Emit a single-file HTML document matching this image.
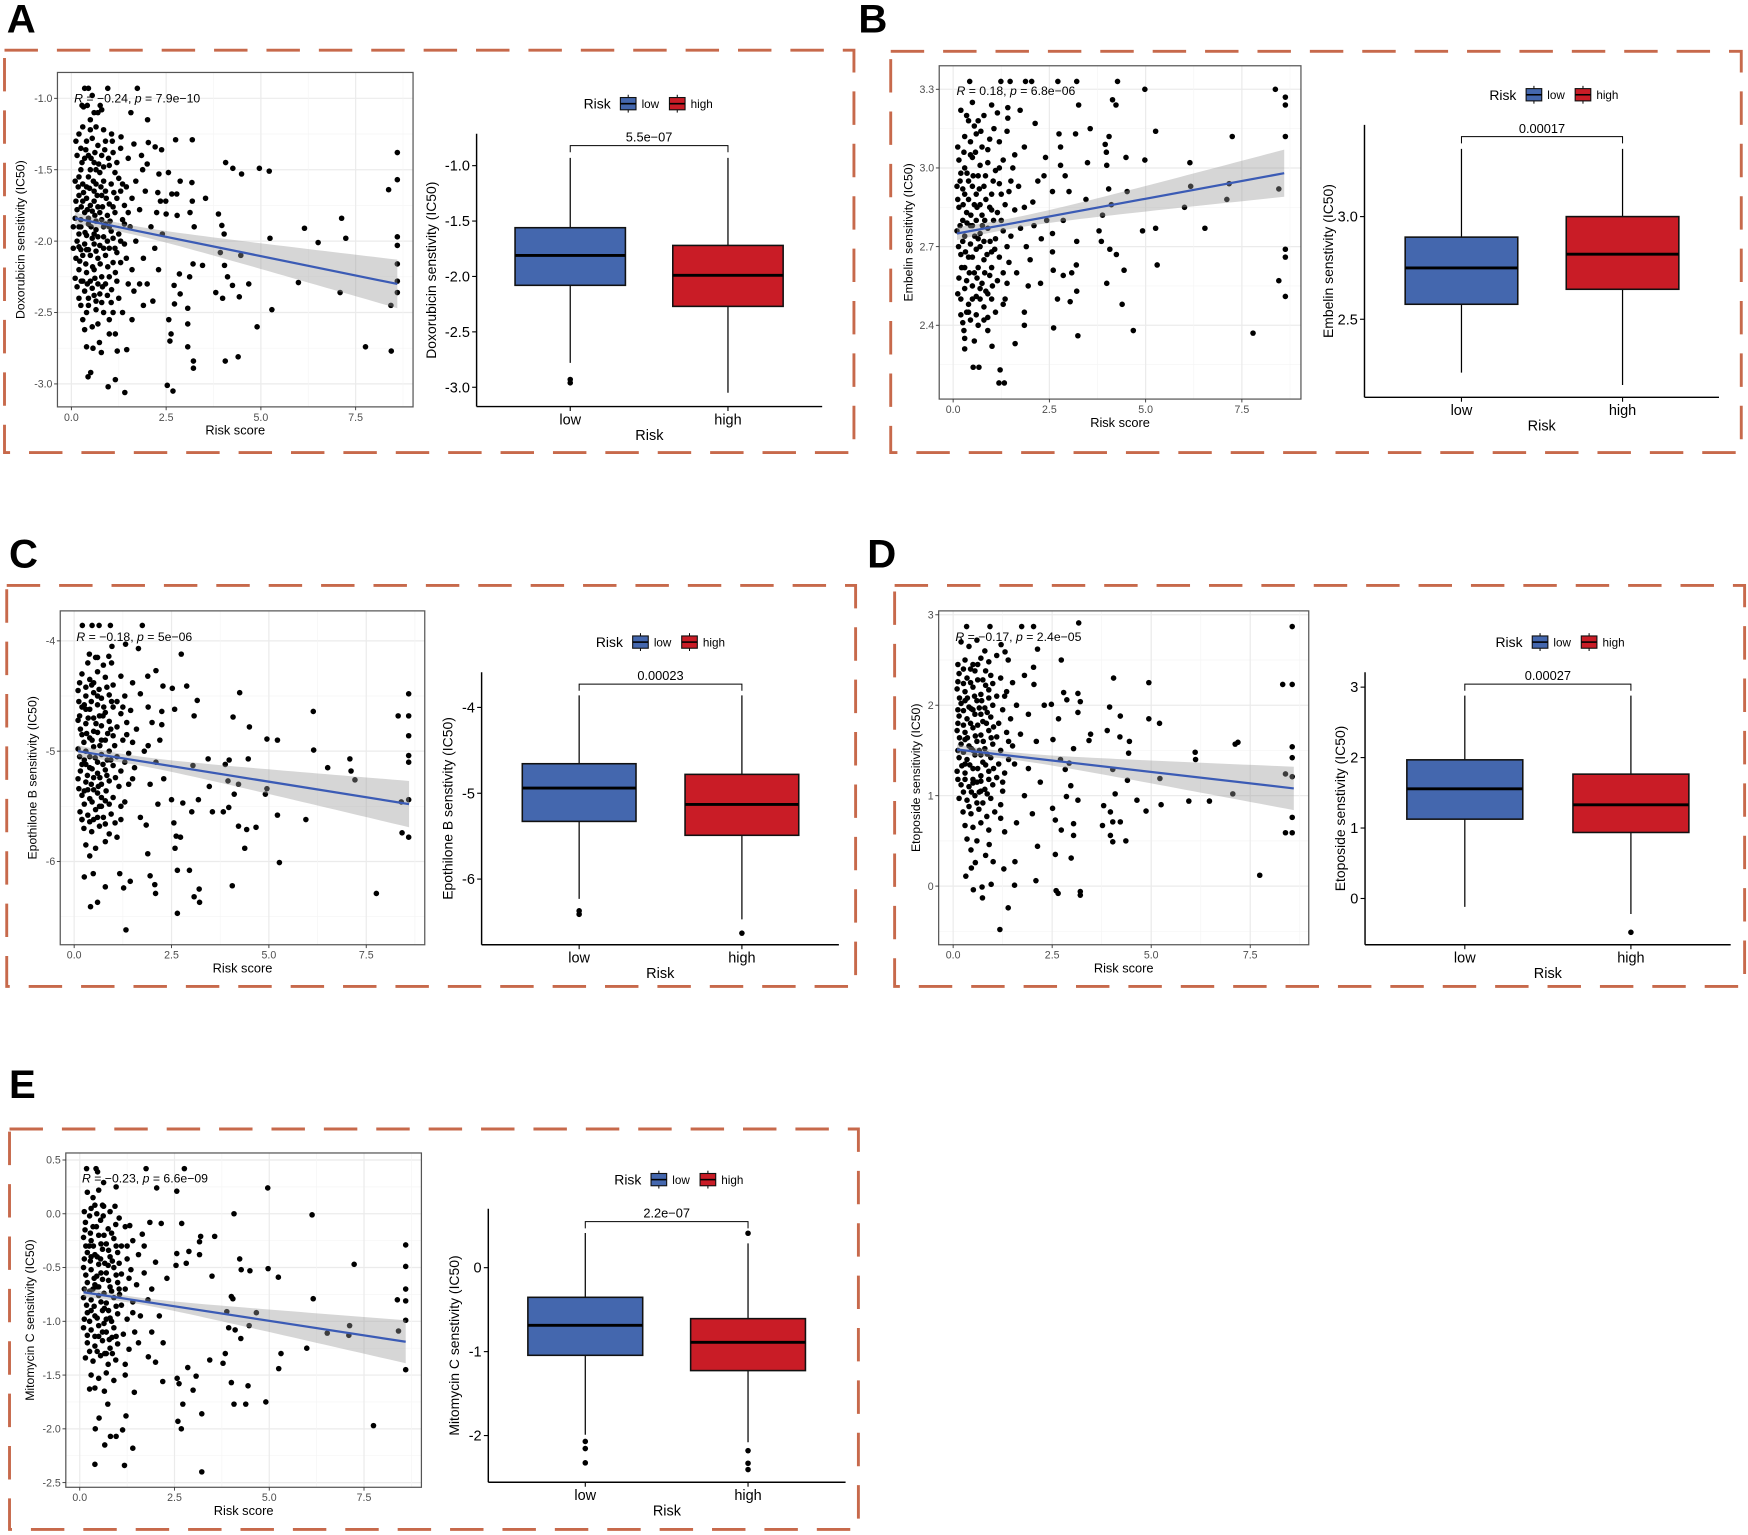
<!DOCTYPE html>
<html><head><meta charset="utf-8">
<style>
html,body{margin:0;padding:0;background:#fff;}
svg{display:block;font-family:"Liberation Sans",Arial,sans-serif;}
</style></head>
<body>
<svg id="fig" xmlns="http://www.w3.org/2000/svg" width="1748" height="1535" viewBox="0 0 1568 1377"></svg>
<script>
// ---------------- DATA ----------------
// Scatter points [riskScore, IC50]
const scatterA = [[2.01,-1.15],[3.19,-1.29],[4.07,-1.45],[4.26,-1.49],[4.49,-1.53],[4.96,-1.49],[5.22,-1.51],[8.6,-1.38],[8.6,-1.57],[8.37,-1.64],[7.13,-1.84],[7.24,-1.98],[6.51,-2.01],[6.15,-1.91],[5.24,-1.98],[8.6,-1.97],[8.6,-2.03],[8.6,-2.16],[8.6,-2.28],[8.6,-2.36],[8.43,-2.45],[3.88,-1.81],[3.97,-1.89],[4.03,-1.95],[3.93,-2.08],[4.04,-2.17],[4.47,-2.1],[4.12,-2.25],[4.25,-2.31],[4.68,-2.3],[5.99,-2.29],[7.09,-2.36],[3.81,-2.36],[3.99,-2.4],[4.43,-2.39],[5.29,-2.48],[4.9,-2.6],[7.76,-2.74],[8.44,-2.77],[4.06,-2.84],[4.4,-2.81],[3.22,-2.84],[3.22,-2.89],[3.07,-2.74],[3.07,-2.58],[3.07,-2.47],[2.6,-2.7],[2.63,-2.65],[2.57,-2.55],[2.72,-2.44],[2.87,-2.37],[2.71,-2.31],[2.85,-2.23],[3.12,-2.25],[3.21,-2.16],[3.46,-2.17],[2.53,-3.01],[2.68,-3.05],[1.41,-3.06],[1.16,-2.97],[0.97,-3.02],[0.44,-2.95],[0.51,-2.92],[0.4,-2.74],[0.57,-2.75],[0.79,-2.78],[0.74,-2.71],[1.16,-2.65],[1.0,-2.65],[1.21,-2.77],[1.46,-2.76],[3.24,-1.9],[3.54,-1.7],[3.18,-1.59],[2.87,-1.58],[2.65,-1.67],[2.78,-1.67],[2.28,-1.66],[2.49,-1.72],[2.35,-1.72],[2.5,-1.81],[2.79,-1.82],[3.19,-1.72],[3.13,-1.8],[2.75,-1.29],[2.38,-1.36],[2.21,-1.34],[2.03,-1.31],[2.56,-1.52],[2.31,-1.53],[2.0,-1.46],[1.88,-1.5],[1.74,-0.93],[0.96,-0.93],[0.76,-1.05],[1.57,-1.1],[0.32,-1.06],[1.06,-1.25],[1.31,-1.27],[1.65,-1.32],
[0.35,-0.93],[0.45,-0.93],[0.55,-0.98],[0.42,-1.05],[0.6,-1.1],[0.7,-1.1],[0.5,-1.15],[0.3,-1.2],[0.8,-1.08],[0.2,-1.25],[0.4,-1.3],[0.55,-1.28],[0.7,-1.33],[0.9,-1.3],[1.1,-1.38],[1.3,-1.35],[0.15,-1.4],[0.35,-1.42],[0.6,-1.45],[0.8,-1.4],[1.0,-1.47],[1.2,-1.45],[1.5,-1.42],[0.25,-1.5],[0.5,-1.5],[0.75,-1.52],[0.1,-1.58],[0.3,-1.6],[0.45,-1.55],[0.65,-1.6],[0.85,-1.58],[1.05,-1.6],[1.25,-1.56],[1.45,-1.62],[1.7,-1.58],[0.2,-1.68],[0.4,-1.7],[0.6,-1.72],[0.8,-1.68],[1.0,-1.74],[1.2,-1.7],[1.4,-1.75],[1.6,-1.7],[0.15,-1.78],[0.35,-1.8],[0.55,-1.79],[0.75,-1.8],[0.95,-1.82],[1.15,-1.8],[1.35,-1.85],[1.8,-1.78],[0.05,-1.9],[0.25,-1.9],[0.45,-1.88],[0.65,-1.92],[0.85,-1.9],[1.05,-1.93],[1.25,-1.95],[1.55,-1.9],[0.15,-2.0],[0.35,-2.02],[0.55,-1.98],[0.75,-2.03],[0.95,-2.0],[1.15,-2.05],[1.4,-2.02],[1.7,-2.0],[0.05,-2.05],[0.3,-2.1],[0.5,-2.1],[0.7,-2.12],[0.9,-2.1],[1.1,-2.15],[1.3,-2.15],[1.6,-2.2],[0.2,-2.2],[0.4,-2.22],[0.6,-2.2],[0.8,-2.25],[1.0,-2.25],[1.2,-2.28],[1.5,-2.3],[1.8,-2.3],[0.15,-2.32],[0.35,-2.35],[0.55,-2.33],[0.75,-2.37],[0.95,-2.38],[1.25,-2.4],[2.0,-2.3],[0.25,-2.45],[0.45,-2.45],[0.65,-2.48],[0.85,-2.5],[1.1,-2.5],[1.35,-2.5],[1.6,-2.55],[0.3,-2.55],[0.55,-2.6],[0.7,-2.58],[1.0,-2.55],[0.35,-2.62],
[0.25,-1.35],[0.45,-1.4],[0.65,-1.5],[0.85,-1.48],[1.15,-1.52],[0.2,-1.55],[0.4,-1.62],[0.6,-1.65],[0.9,-1.65],[1.3,-1.65],[0.3,-1.72],[0.5,-1.75],[0.7,-1.76],[1.1,-1.76],[0.25,-1.85],[0.45,-1.84],[0.65,-1.86],[0.9,-1.88],[1.4,-1.88],[0.2,-1.95],[0.4,-1.96],[0.6,-1.95],[0.85,-1.97],[1.1,-1.98],[0.25,-2.06],[0.45,-2.06],[0.65,-2.07],[0.85,-2.05],[1.2,-2.08],[1.9,-2.12],[2.2,-2.05],[2.1,-1.9],[2.3,-2.2],[2.15,-2.42],[1.9,-2.45],[0.3,-2.28],[0.5,-2.28],[0.7,-2.3],[0.9,-2.3],[0.45,-2.4],[0.65,-2.42],[1.05,-2.43],[2.4,-1.95],[2.25,-1.8],[1.95,-1.65],[1.85,-1.4],
[0.12,-1.3],[0.28,-1.45],[0.38,-1.36],[0.52,-1.42],[0.62,-1.38],[0.72,-1.46],[0.88,-1.36],[0.98,-1.42],[1.08,-1.3],[0.18,-1.62],[0.32,-1.66],[0.48,-1.63],[0.58,-1.58],[0.68,-1.68],[0.78,-1.62],[0.92,-1.7],[1.12,-1.66],[0.12,-1.72],[0.26,-1.76],[0.42,-1.78],[0.62,-1.82],[0.82,-1.76],[1.02,-1.86],[0.1,-1.84],[0.2,-1.9],[0.36,-1.94],[0.52,-1.9],[0.7,-1.97],[0.8,-1.85],[1.0,-1.9],[0.12,-2.12],[0.22,-2.14],[0.38,-2.16],[0.56,-2.18],[0.76,-2.16],[0.96,-2.18],[1.16,-2.22],[0.1,-2.26],[0.26,-2.28],[0.42,-2.3],[0.62,-2.26],[0.82,-2.32],[1.06,-2.34],[0.2,-2.4],[0.4,-2.5],[0.6,-2.38],[0.8,-2.43],[0.28,-1.05],[0.5,-1.22],[0.65,-1.2],[0.85,-1.22],[1.35,-1.6],[1.5,-1.8],[1.3,-2.0],[1.45,-2.12],[1.65,-2.35],[1.0,-2.05],[0.6,-2.02],[0.4,-2.06],[0.2,-2.04]];
const scatterB = [[2.72,3.33],[3.21,3.33],[4.27,3.33],[4.98,3.3],[8.37,3.3],[8.63,3.27],[8.63,3.24],[8.63,3.12],[5.26,3.14],[7.25,3.12],[4.14,3.26],[4.23,3.24],[3.26,3.24],[2.75,3.13],[3.18,3.13],[3.56,3.15],[4.05,3.12],[3.95,3.09],[3.98,3.06],[3.99,3.01],[3.49,3.02],[4.49,3.04],[4.98,3.03],[6.15,3.02],[6.17,2.93],[7.17,2.94],[7.11,2.88],[8.46,2.92],[6.01,2.85],[6.54,2.77],[5.26,2.77],[4.92,2.76],[4.52,2.91],[4.11,2.86],[3.88,2.82],[4.04,2.92],[3.45,2.88],[3.79,2.76],[3.85,2.72],[4.07,2.69],[4.24,2.67],[4.44,2.61],[5.3,2.63],[3.99,2.56],[4.39,2.48],[4.68,2.38],[7.79,2.37],[8.63,2.69],[8.63,2.66],[8.46,2.57],[8.63,2.51],[3.24,2.36],[2.61,2.39],[3.21,2.53],[3.04,2.49],[2.71,2.5],[2.27,2.56],[3.21,2.72],[3.2,2.63],[3.08,2.6],[2.86,2.59],[2.6,2.61],[3.01,2.91],[2.58,2.91],[2.36,2.97],[2.79,3.01],[2.91,2.97],[2.4,3.04],[2.79,3.08],[2.13,3.17],[1.85,3.08],[2.07,2.87],[2.43,2.8],[2.86,2.8],[2.58,2.75],[2.29,2.73],[2.58,2.68],[2.0,2.65],[1.33,2.18],[1.19,2.18],[1.22,2.23],[0.67,2.24],[0.52,2.24],[0.3,2.31],[1.61,2.33],[1.01,2.32],[1.85,2.4],[1.85,2.45],[1.88,3.33],[2.04,3.33],[1.48,3.33],[1.24,3.33],[0.43,3.33],[1.42,3.23],[1.74,3.22],[1.42,3.19],
[0.2,3.22],[0.35,3.2],[0.5,3.25],[0.65,3.18],[0.8,3.2],[1.0,3.24],[1.15,3.21],[0.3,3.12],[0.45,3.1],[0.6,3.13],[0.75,3.08],[0.95,3.11],[1.2,3.1],[1.4,3.14],[0.15,3.03],[0.3,3.0],[0.5,3.04],[0.7,3.01],[0.9,3.02],[1.1,2.99],[1.3,3.03],[1.55,3.0],[0.1,2.93],[0.25,2.92],[0.4,2.95],[0.6,2.9],[0.8,2.93],[1.0,2.9],[1.2,2.94],[1.45,2.91],[1.7,2.93],[0.15,2.85],[0.35,2.83],[0.55,2.86],[0.75,2.82],[0.95,2.85],[1.15,2.83],[1.35,2.86],[1.6,2.84],[0.1,2.76],[0.3,2.74],[0.5,2.78],[0.7,2.75],[0.9,2.77],[1.1,2.73],[1.3,2.76],[1.5,2.74],[1.75,2.77],[0.2,2.67],[0.4,2.66],[0.6,2.69],[0.8,2.65],[1.0,2.68],[1.2,2.66],[1.45,2.64],[0.15,2.58],[0.35,2.57],[0.55,2.6],[0.75,2.56],[0.95,2.59],[1.15,2.57],[1.4,2.56],[0.2,2.5],[0.4,2.48],[0.6,2.51],[0.8,2.47],[1.0,2.5],[1.3,2.48],[0.25,2.41],[0.45,2.42],[0.65,2.4],[0.9,2.43],[0.3,2.35],[0.55,2.34],[0.45,3.05],[0.65,2.97],[0.85,2.88],[0.25,2.8],[0.45,2.71],[0.65,2.62],[0.85,2.53],[0.35,2.45],[1.05,2.8],[1.25,2.9],[0.55,3.16],[0.4,2.88],[0.6,2.8],[0.2,2.98],[0.8,2.72],[1.0,2.62],[0.3,2.9],[0.5,2.93],[0.7,2.86],[0.3,2.62],[0.5,2.55],[0.7,2.5],[0.25,2.72],[0.45,2.78],[0.65,2.73],[1.9,2.7],[2.1,2.78],[1.95,2.55],[2.2,2.95],[1.65,2.6],[1.85,2.85],[0.9,2.38],[1.1,2.45],
[0.12,3.08],[0.28,3.06],[0.4,3.18],[0.58,3.06],[0.72,3.14],[0.9,3.07],[1.06,3.15],[0.18,2.95],[0.36,2.98],[0.52,2.97],[0.68,2.92],[0.84,2.97],[1.04,2.95],[0.12,2.88],[0.26,2.86],[0.46,2.82],[0.62,2.85],[0.82,2.8],[1.0,2.84],[0.18,2.78],[0.36,2.79],[0.56,2.74],[0.76,2.78],[0.96,2.72],[0.14,2.7],[0.32,2.68],[0.5,2.66],[0.7,2.7],[0.88,2.67],[1.08,2.69],[0.22,2.62],[0.42,2.6],[0.62,2.58],[0.82,2.6],[1.02,2.55],[0.12,2.52],[0.3,2.54],[0.5,2.5],[0.7,2.54],[0.9,2.52],[0.2,2.44],[0.4,2.45],[0.6,2.44],[0.8,2.42],[0.28,2.38],[1.25,2.8],[1.4,2.7],[1.3,2.6],[1.5,2.95],[1.6,3.05],[1.2,3.0],[1.35,2.5]];
const scatterC = [[2.75,-4.12],[2.89,-4.41],[2.52,-4.43],[2.28,-4.41],[2.1,-4.27],[1.89,-4.32],[3.16,-4.54],[4.25,-4.47],[4.08,-4.69],[4.5,-4.78],[3.08,-4.68],[2.58,-4.62],[2.25,-4.64],[2.25,-4.76],[2.0,-4.74],[6.14,-4.64],[8.32,-4.68],[8.59,-4.48],[8.59,-4.68],[8.59,-4.86],[8.59,-5.04],[8.59,-5.1],[8.59,-5.44],[8.4,-5.46],[8.42,-5.74],[8.59,-5.78],[7.76,-6.29],[6.15,-4.99],[6.51,-5.15],[7.08,-5.07],[7.11,-5.18],[7.21,-5.26],[4.95,-4.89],[5.22,-4.9],[4.47,-5.07],[3.88,-5.12],[3.98,-5.08],[3.95,-5.27],[4.11,-5.39],[4.22,-5.3],[4.91,-5.39],[4.95,-5.34],[3.97,-5.51],[3.83,-5.55],[3.55,-5.55],[5.22,-5.58],[5.95,-5.62],[4.22,-5.68],[4.43,-5.71],[4.67,-5.69],[4.38,-5.88],[5.27,-6.01],[4.06,-6.22],[3.44,-5.07],[3.05,-5.13],[3.47,-5.32],[3.19,-5.44],[3.02,-5.55],[3.21,-6.25],[3.08,-6.32],[3.22,-6.37],[2.96,-6.08],[2.65,-6.47],[2.65,-6.08],[2.59,-5.88],[2.56,-5.65],[2.62,-5.77],[2.73,-5.78],[2.79,-5.47],[2.5,-5.44],[2.15,-5.48],[2.09,-6.29],[2.07,-6.21],[1.95,-6.13],[1.89,-5.93],[1.85,-5.67],[1.33,-6.62],[1.44,-6.18],[1.27,-6.24],[1.17,-6.11],[0.8,-6.23],[0.6,-6.37],[0.42,-6.41],[0.26,-6.14],[0.49,-6.11],[0.46,-3.86],[0.64,-3.86],[0.93,-3.86],[1.75,-3.86],[0.21,-3.86],[0.97,-4.05],[1.32,-4.03],[1.65,-4.07],[0.39,-4.12],[0.89,-4.14],[0.6,-4.15],[0.96,-4.2],
[0.2,-4.3],[0.4,-4.35],[0.6,-4.28],[0.8,-4.33],[1.0,-4.4],[1.2,-4.32],[1.5,-4.38],[0.1,-4.45],[0.3,-4.5],[0.5,-4.47],[0.7,-4.52],[0.9,-4.49],[1.1,-4.55],[1.3,-4.5],[1.7,-4.48],[0.2,-4.6],[0.4,-4.62],[0.6,-4.58],[0.8,-4.65],[1.0,-4.6],[1.2,-4.66],[1.45,-4.63],[0.1,-4.72],[0.3,-4.75],[0.5,-4.7],[0.7,-4.77],[0.9,-4.73],[1.1,-4.78],[1.35,-4.74],[1.6,-4.8],[0.2,-4.85],[0.4,-4.88],[0.6,-4.83],[0.8,-4.9],[1.0,-4.86],[1.25,-4.9],[1.5,-4.92],[0.1,-4.98],[0.3,-5.0],[0.5,-4.96],[0.7,-5.03],[0.9,-5.0],[1.1,-5.05],[1.4,-5.02],[1.8,-5.0],[0.2,-5.12],[0.4,-5.15],[0.6,-5.1],[0.8,-5.17],[1.0,-5.13],[1.2,-5.18],[1.55,-5.15],[0.1,-5.25],[0.3,-5.28],[0.5,-5.24],[0.7,-5.3],[0.9,-5.27],[1.15,-5.32],[1.4,-5.3],[0.2,-5.4],[0.4,-5.43],[0.6,-5.38],[0.8,-5.45],[1.0,-5.42],[1.3,-5.46],[0.15,-5.55],[0.35,-5.58],[0.55,-5.53],[0.75,-5.6],[0.95,-5.57],[1.2,-5.62],[0.25,-5.7],[0.45,-5.73],[0.65,-5.68],[0.9,-5.75],[1.1,-5.78],[0.3,-5.85],[0.55,-5.88],[0.8,-5.82],[0.4,-5.95],[0.35,-4.2],[0.55,-4.15],[0.75,-4.22],[0.45,-4.4],[0.65,-4.68],[0.25,-4.92],[0.85,-5.08],[0.35,-5.35],[0.65,-5.5],[1.05,-5.65],[0.3,-4.62],[0.5,-4.82],[0.7,-4.9],[0.4,-5.05],[0.6,-5.2],[0.3,-5.12],[0.5,-5.35],[0.7,-5.42],[1.9,-4.95],[2.1,-5.1],[2.3,-5.25],[1.95,-5.3],[2.2,-4.9],[1.7,-5.6],[1.9,-4.6],[0.2,-5.62],[0.5,-5.62],
[0.14,-4.38],[0.3,-4.42],[0.5,-4.38],[0.64,-4.44],[0.84,-4.42],[0.12,-4.55],[0.26,-4.58],[0.44,-4.55],[0.6,-4.5],[0.76,-4.6],[0.96,-4.55],[0.14,-4.68],[0.36,-4.7],[0.56,-4.75],[0.74,-4.68],[0.94,-4.8],[0.16,-4.8],[0.32,-4.84],[0.46,-4.9],[0.66,-4.95],[0.86,-4.84],[1.04,-4.95],[0.14,-5.05],[0.26,-5.08],[0.54,-5.06],[0.74,-5.12],[0.94,-5.08],[0.16,-5.18],[0.34,-5.22],[0.46,-5.16],[0.66,-5.24],[0.84,-5.22],[1.06,-5.24],[0.12,-5.34],[0.26,-5.36],[0.44,-5.3],[0.62,-5.32],[0.82,-5.36],[0.26,-5.48],[0.46,-5.46],[0.7,-5.5],[0.9,-5.48],[0.2,-5.62],[0.4,-5.64],[0.6,-5.6],[0.8,-5.66],[1.25,-4.6],[1.35,-4.85],[1.3,-5.1],[1.5,-5.25],[1.2,-5.5]];
const scatterD = [[8.56,2.87],[8.32,2.23],[8.56,2.23],[8.56,1.54],[8.56,1.42],[8.56,1.21],[8.39,1.24],[8.56,0.76],[8.39,0.59],[8.56,0.59],[7.74,0.12],[7.06,1.02],[7.12,1.57],[7.19,1.59],[6.11,1.48],[6.12,1.4],[6.47,0.94],[5.95,0.94],[5.22,1.19],[5.25,0.9],[4.87,0.83],[4.64,0.95],[4.94,1.85],[5.21,1.8],[4.94,2.25],[4.05,2.3],[3.95,1.98],[4.22,1.88],[3.89,1.72],[4.21,1.65],[4.45,1.6],[4.43,1.47],[4.4,1.17],[4.03,1.29],[4.09,1.02],[3.97,0.82],[3.8,0.89],[4.03,0.71],[4.22,0.71],[3.77,0.67],[3.97,0.56],[4.03,0.49],[4.36,0.5],[3.47,1.68],[3.43,1.61],[3.04,1.52],[3.15,2.13],[3.21,2.04],[3.15,1.92],[3.17,2.91],[2.73,2.5],[2.79,2.14],[2.87,2.06],[2.66,1.85],[2.48,2.01],[2.52,1.62],[2.71,1.4],[2.93,1.36],[2.83,1.29],[2.97,1.11],[2.86,0.99],[3.15,0.95],[3.04,0.69],[3.04,0.56],[2.98,0.31],[3.21,-0.06],[3.21,-0.1],[2.6,-0.05],[2.65,-0.08],[2.58,0.35],[2.73,0.62],[2.58,0.73],[2.51,0.86],[2.13,0.44],[2.09,0.06],[1.55,0.01],[1.39,-0.24],[1.18,-0.48],[0.96,0.02],[0.73,-0.01],[0.74,-0.13],[0.51,-0.04],[0.32,0.11],[1.56,0.27],[1.28,0.19],[1.01,0.27],[0.56,0.26],[0.46,0.2],[0.82,0.34],[0.91,0.46],[0.34,2.87],[0.93,2.87],[1.73,2.87],[2.03,2.87],[2.13,2.62],[2.03,2.42],[2.04,2.23],[1.8,2.33],[1.39,2.5],[1.31,2.59],[1.21,2.67],
[0.2,2.7],[0.4,2.65],[0.6,2.72],[0.8,2.6],[0.3,2.5],[0.5,2.45],[0.7,2.52],[0.9,2.48],[1.1,2.55],[0.15,2.35],[0.35,2.3],[0.55,2.38],[0.75,2.28],[0.95,2.33],[1.2,2.3],[1.5,2.25],[0.1,2.18],[0.3,2.15],[0.5,2.2],[0.7,2.12],[0.9,2.17],[1.1,2.1],[1.35,2.15],[0.2,2.02],[0.4,1.98],[0.6,2.05],[0.8,1.97],[1.0,2.0],[1.25,1.95],[1.6,2.0],[0.15,1.88],[0.35,1.85],[0.55,1.9],[0.75,1.82],[0.95,1.87],[1.15,1.8],[1.45,1.85],[0.1,1.72],[0.3,1.7],[0.5,1.75],[0.7,1.67],[0.9,1.72],[1.1,1.65],[1.35,1.7],[1.7,1.68],[0.2,1.57],[0.4,1.55],[0.6,1.6],[0.8,1.52],[1.0,1.57],[1.2,1.5],[1.5,1.55],[0.15,1.42],[0.35,1.4],[0.55,1.45],[0.75,1.37],[0.95,1.42],[1.15,1.35],[1.4,1.4],[0.1,1.27],[0.3,1.25],[0.5,1.3],[0.7,1.22],[0.9,1.27],[1.1,1.2],[1.3,1.25],[0.2,1.12],[0.4,1.1],[0.6,1.15],[0.8,1.07],[1.0,1.12],[1.25,1.05],[0.15,0.97],[0.35,0.95],[0.55,1.0],[0.75,0.92],[0.95,0.97],[1.2,0.9],[0.25,0.82],[0.45,0.8],[0.65,0.85],[0.85,0.77],[1.05,0.82],[0.3,0.67],[0.5,0.65],[0.7,0.7],[0.9,0.62],[0.35,0.52],[0.6,0.5],[0.45,0.4],[0.3,2.05],[0.5,1.95],[0.7,1.9],[0.3,1.62],[0.5,1.5],[0.7,1.45],[0.3,1.35],[0.5,1.18],[0.7,1.05],[1.9,1.9],[2.1,1.6],[1.9,1.3],[2.2,1.15],[1.8,1.0],[2.0,0.8],[1.6,0.7],[1.3,0.6],[2.3,2.0],
[0.12,2.45],[0.26,2.4],[0.44,2.4],[0.62,2.45],[0.82,2.38],[0.12,2.26],[0.26,2.24],[0.44,2.25],[0.62,2.28],[0.82,2.22],[1.0,2.24],[0.16,2.08],[0.36,2.08],[0.54,2.1],[0.72,2.05],[0.9,2.08],[0.12,1.95],[0.26,1.94],[0.46,1.96],[0.66,1.97],[0.86,1.92],[0.12,1.8],[0.26,1.78],[0.44,1.8],[0.62,1.78],[0.84,1.8],[1.02,1.76],[0.16,1.64],[0.36,1.64],[0.56,1.66],[0.76,1.6],[0.96,1.64],[0.12,1.5],[0.26,1.48],[0.46,1.52],[0.66,1.5],[0.86,1.46],[0.22,1.33],[0.42,1.34],[0.62,1.3],[0.82,1.34],[1.02,1.3],[0.12,1.18],[0.3,1.18],[0.5,1.14],[0.7,1.16],[0.9,1.18],[0.26,1.04],[0.46,1.04],[0.66,1.04],[0.86,1.02],[0.4,0.88],[0.6,0.92],[1.3,2.1],[1.4,1.6],[1.25,1.15],[1.55,1.35],[1.2,0.75]];
const scatterE = [[4.96,0.24],[4.07,0.0],[6.13,-0.01],[2.76,0.42],[1.75,0.42],[2.56,0.21],[2.03,0.24],[2.15,-0.09],[1.85,-0.08],[2.69,-0.09],[3.56,-0.21],[3.19,-0.21],[3.16,-0.26],[2.88,-0.35],[2.56,-0.37],[3.16,-0.38],[2.81,-0.46],[2.54,-0.48],[4.22,-0.42],[4.26,-0.52],[4.49,-0.53],[4.97,-0.51],[5.24,-0.59],[3.49,-0.58],[7.24,-0.47],[8.6,-0.29],[8.6,-0.49],[8.6,-0.7],[8.6,-0.81],[8.38,-0.8],[8.6,-0.99],[8.41,-1.09],[8.6,-1.45],[7.12,-1.04],[7.1,-1.13],[6.53,-1.11],[6.16,-0.79],[4.66,-0.92],[4.47,-1.04],[4.1,-1.08],[3.93,-1.06],[4.25,-1.16],[4.04,-0.79],[3.88,-0.91],[4.0,-0.77],[3.84,-1.3],[3.78,-1.39],[4.0,-1.57],[4.44,-1.6],[4.07,-1.77],[4.38,-1.77],[4.91,-1.75],[5.31,-1.3],[5.25,-1.44],[5.99,-1.25],[7.75,-1.97],[3.22,-1.86],[3.22,-2.4],[3.43,-1.36],[2.99,-1.64],[3.07,-1.51],[2.85,-1.43],[2.62,-1.58],[2.57,-1.53],[2.72,-1.77],[2.59,-1.93],[2.68,-2.0],[2.19,-1.56],[2.0,-1.38],[1.81,-1.33],[1.44,-1.66],[1.4,-2.18],[1.18,-2.34],[1.22,-1.88],[0.96,-2.07],[1.13,-2.01],[0.81,-2.07],[0.66,-2.15],[0.74,-1.77],[0.4,-2.33],[0.41,-2.0],[0.51,-1.9],[0.26,-1.63],[0.18,0.42],[0.43,0.42],[0.47,0.39],[0.63,0.29],[0.96,0.25],[0.93,0.07],[0.63,0.07],[1.04,-0.04],[1.32,-0.11],[1.65,-0.19],
[0.2,0.2],[0.35,0.15],[0.5,0.22],[0.3,0.05],[0.45,0.0],[0.6,0.08],[0.8,0.02],[0.15,-0.08],[0.35,-0.12],[0.55,-0.06],[0.75,-0.14],[0.95,-0.1],[1.2,-0.12],[0.1,-0.22],[0.3,-0.25],[0.5,-0.2],[0.7,-0.28],[0.9,-0.23],[1.1,-0.3],[1.4,-0.25],[0.2,-0.36],[0.4,-0.38],[0.6,-0.33],[0.8,-0.4],[1.0,-0.36],[1.25,-0.42],[1.55,-0.38],[0.1,-0.5],[0.3,-0.52],[0.5,-0.47],[0.7,-0.55],[0.9,-0.5],[1.1,-0.56],[1.35,-0.52],[1.7,-0.55],[0.2,-0.64],[0.4,-0.66],[0.6,-0.61],[0.8,-0.68],[1.0,-0.64],[1.2,-0.7],[1.5,-0.66],[0.1,-0.78],[0.3,-0.8],[0.5,-0.76],[0.7,-0.83],[0.9,-0.78],[1.1,-0.85],[1.4,-0.82],[1.8,-0.8],[0.2,-0.92],[0.4,-0.95],[0.6,-0.9],[0.8,-0.97],[1.0,-0.93],[1.25,-0.98],[1.6,-0.95],[0.1,-1.06],[0.3,-1.08],[0.5,-1.04],[0.7,-1.1],[0.9,-1.06],[1.15,-1.12],[1.45,-1.1],[0.2,-1.2],[0.4,-1.23],[0.6,-1.18],[0.8,-1.25],[1.0,-1.21],[1.3,-1.26],[0.15,-1.34],[0.35,-1.37],[0.55,-1.32],[0.75,-1.4],[0.95,-1.36],[1.2,-1.4],[0.3,-1.5],[0.5,-1.53],[0.7,-1.48],[0.9,-1.55],[0.4,-1.62],[0.65,-1.65],[0.25,-0.3],[0.45,-0.58],[0.65,-0.88],[0.85,-1.15],[0.55,-0.42],[0.35,-0.7],[0.75,-0.48],[1.05,-0.75],[0.3,-0.4],[0.5,-0.68],[0.7,-0.98],[0.3,-0.9],[0.5,-1.14],[0.7,-1.3],[1.9,-0.7],[2.1,-0.95],[2.3,-0.6],[1.9,-1.1],[2.2,-1.2],[1.7,-0.3],[2.0,-0.45],
[0.12,0.02],[0.26,-0.02],[0.4,0.08],[0.62,-0.02],[0.14,-0.15],[0.28,-0.18],[0.44,-0.12],[0.64,-0.2],[0.84,-0.18],[0.16,-0.3],[0.36,-0.3],[0.56,-0.28],[0.76,-0.34],[0.96,-0.3],[0.12,-0.42],[0.28,-0.44],[0.46,-0.4],[0.66,-0.46],[0.86,-0.44],[1.04,-0.46],[0.16,-0.57],[0.38,-0.6],[0.56,-0.55],[0.76,-0.62],[0.96,-0.57],[0.12,-0.7],[0.26,-0.72],[0.46,-0.68],[0.64,-0.74],[0.84,-0.72],[1.04,-0.7],[0.18,-0.85],[0.38,-0.86],[0.56,-0.82],[0.76,-0.9],[0.96,-0.86],[0.12,-0.98],[0.26,-1.0],[0.46,-0.97],[0.64,-1.02],[0.84,-1.0],[0.2,-1.13],[0.4,-1.14],[0.6,-1.1],[0.78,-1.17],[0.96,-1.14],[0.26,-1.28],[0.46,-1.28],[0.66,-1.3],[0.86,-1.3],[1.3,-0.6],[1.4,-0.92],[1.25,-0.3],[1.55,-1.2],[1.2,-1.5]];

// Regression fits: [y at x=0.1, y at x=8.6]; CI half-width [at centre, at x=8.6]
const fitA = [-1.84,-2.30], bandA = [0.03,0.17];
const fitB = [2.75,2.98],   bandB = [0.02,0.09];
const fitC = [-5.0,-5.48],  bandC = [0.04,0.21];
const fitD = [1.51,1.08],   bandD = [0.04,0.24];
const fitE = [-0.73,-1.19], bandE = [0.03,0.2];

// Box stats [whiskerLow, q1, median, q3, whiskerHigh]
const boxA_low = [-2.78,-2.08,-1.81,-1.56,-0.93], boxA_high = [-3.05,-2.27,-1.99,-1.72,-0.93];
const outA_low = [-2.93,-2.96], outA_high = [];
const boxB_low = [2.24,2.573,2.75,2.90,3.33], boxB_high = [2.18,2.646,2.817,3.0,3.33];
const outB_low = [], outB_high = [];
const boxC_low = [-6.23,-5.328,-4.94,-4.656,-3.86], boxC_high = [-6.47,-5.49,-5.13,-4.78,-3.86];
const outC_low = [-6.37,-6.41], outC_high = [-6.63];
const boxD_low = [-0.12,1.126,1.557,1.968,2.88], boxD_high = [-0.22,0.937,1.33,1.765,2.88];
const outD_low = [], outD_high = [-0.48];
const boxE_low = [-1.99,-1.044,-0.687,-0.353,0.413], boxE_high = [-2.08,-1.226,-0.889,-0.607,0.29];
const outE_low = [-2.07,-2.155,-2.325], outE_high = [0.41,-2.18,-2.33,-2.405];

// Tick labels
const scatterXTicks = [0,2.5,5,7.5];
const scatterXLabels = ["0.0","2.5","5.0","7.5"];
const sTicksA = [-1.0,-1.5,-2.0,-2.5,-3.0], sLabA = ["-1.0","-1.5","-2.0","-2.5","-3.0"];
const sTicksB = [2.4,2.7,3.0,3.3], sLabB = ["2.4","2.7","3.0","3.3"];
const sTicksC = [-4,-5,-6], sLabC = ["-4","-5","-6"];
const sTicksD = [0,1,2,3], sLabD = ["0","1","2","3"];
const sTicksE = [0.5,0.0,-0.5,-1.0,-1.5,-2.0,-2.5], sLabE = ["0.5","0.0","-0.5","-1.0","-1.5","-2.0","-2.5"];
const bTicksA = [-1.0,-1.5,-2.0,-2.5,-3.0], bLabA = ["-1.0","-1.5","-2.0","-2.5","-3.0"];
const bTicksB = [2.5,3.0], bLabB = ["2.5","3.0"];
const bTicksC = [-4,-5,-6], bLabC = ["-4","-5","-6"];
const bTicksD = [0,1,2,3], bLabD = ["0","1","2","3"];
const bTicksE = [0,-1,-2], bLabE = ["0","-1","-2"];
const groups = ["low","high"];
const pValues = ["5.5e\u221207","0.00017","0.00023","0.00027","2.2e\u221207"];
const corrR = ["\u22120.24","0.18","\u22120.18","\u22120.17","\u22120.23"];
const corrP = ["7.9e\u221210","6.8e\u221206","5e\u221206","2.4e\u221205","6.6e\u221209"];

// ---------------- LAYOUT (pixel geometry) ----------------
const panels = [
 {id:"a",letter:"A",L:[6,29],frame:[4,45,766,406],sp:[51.5,65,370.5,365],sx:[0,64,7.5,319],sy:[-1,88.2,-3,344.4],
  ytitle:"Doxorubicin sensitivity (IC50)",ytx:19,rT:[66.5,92],
  bp:{ax:427.5,top:120,bot:364.7,right:737.5,y:[-1,148.6,-3,347.4],x:[511.5,653],hw:49.5,sig:130.6,ytx:388,title:"Doxorubicin senstivity (IC50)"},leg:[523.5,93],
  data:scatterA,fit:fitA,band:bandA,sT:sTicksA,sL:sLabA,bT:bTicksA,bL:bLabA,box:[boxA_low,boxA_high],out:[outA_low,outA_high]},
 {id:"b",letter:"B",L:[770,29],frame:[799,46,1562,406],sp:[842.5,59,1167,358],sx:[0,855,7.5,1114],sy:[3.3,80.1,2.4,291.8],
  ytitle:"Embelin sensitivity (IC50)",ytx:815.5,rT:[858,85],
  bp:{ax:1224,top:112,bot:356.4,right:1542,y:[3.0,194.3,2.5,286.4],x:[1311,1455.5],hw:50.5,sig:122.6,ytx:1192.5,title:"Embelin senstivity (IC50)"},leg:[1336,85],
  data:scatterB,fit:fitB,band:bandB,sT:sTicksB,sL:sLabB,bT:bTicksB,bL:bLabB,box:[boxB_low,boxB_high],out:[outB_low,outB_high]},
 {id:"c",letter:"C",L:[8,509],frame:[6,525.2,767.5,884.9],sp:[54,548,381,847.5],sx:[0,66.5,7.5,328.5],sy:[-4,574.9,-6,772.8],
  ytitle:"Epothilone B sensitivity (IC50)",ytx:30,rT:[68.5,575],
  bp:{ax:432,top:603,bot:847.5,right:752.5,y:[-4,634.6,-6,788.6],x:[519.5,665.5],hw:51,sig:613.7,ytx:402.5,title:"Epothilone B senstivity (IC50)"},leg:[534.5,576],
  data:scatterC,fit:fitC,band:bandC,sT:sTicksC,sL:sLabC,bT:bTicksC,bL:bLabC,box:[boxC_low,boxC_high],out:[outC_low,outC_high]},
 {id:"d",letter:"D",L:[778,509],frame:[802.5,525.2,1565,884.9],sp:[842,548,1174,847.5],sx:[0,855,7.5,1121.5],sy:[3,551.5,0,794.9],
  ytitle:"Etoposide sensitivity (IC50)",ytx:822.5,rT:[857,575],
  bp:{ax:1224.5,top:603,bot:847.5,right:1552.5,y:[3,616.4,0,806],x:[1314,1463],hw:52,sig:613.7,ytx:1203,title:"Etoposide senstivity (IC50)"},leg:[1341.5,576],
  data:scatterD,fit:fitD,band:bandD,sT:sTicksD,sL:sLabD,bT:bTicksD,bL:bLabD,box:[boxD_low,boxD_high],out:[outD_low,outD_high]},
 {id:"e",letter:"E",L:[8,985],frame:[8.5,1012.8,770,1372],sp:[59,1034.3,378,1334.2],sx:[0,71.5,7.5,326.5],sy:[0.5,1040.6,-2.5,1330],
  ytitle:"Mitomycin C sensitivity (IC50)",ytx:27.5,rT:[73.5,1061],
  bp:{ax:438,top:1084.3,bot:1329.7,right:758.5,y:[0,1137.2,-2,1287.8],x:[525,671],hw:51.5,sig:1095.9,ytx:408.5,title:"Mitomycin C senstivity (IC50)"},leg:[551,1058.2],
  data:scatterE,fit:fitE,band:bandE,sT:sTicksE,sL:sLabE,bT:bTicksE,bL:bLabE,box:[boxE_low,boxE_high],out:[outE_low,outE_high]}
];
const COLORS = ["#4467ae","#c91c26"];

const NS = "http://www.w3.org/2000/svg";
const svg = document.getElementById("fig");
function mk(tag, attrs, parent){
  const e = document.createElementNS(NS, tag);
  for (const k in attrs) e.setAttribute(k, attrs[k]);
  (parent||svg).appendChild(e);
  return e;
}
function lin(d){ return v => d[1] + (v - d[0]) * (d[3]-d[1]) / (d[2]-d[0]); }

panels.forEach((p, pi) => {
  const g = mk("g", {});
  
  

  const lt = mk("text", {x:p.L[0], y:p.L[1], "font-size":36, "font-weight":"bold", fill:"#000"}, g);
  lt.textContent = p.letter;
  
  

  const f = p.frame;
  const fr = mk("rect", {x:f[0], y:f[1], width:f[2]-f[0], height:f[3]-f[1], fill:"none", stroke:"#c7694b", "stroke-width":2.6, "stroke-dasharray":"30 17"}, g);
  
  

  // ---- scatter ----
  const X = lin(p.sx), Y = lin(p.sy), sp = p.sp;
  const sg = mk("g", {}, g);
  
  
  const clipId = "clip" + p.id;
  const cp = mk("clipPath", {id:clipId}, sg);
  mk("rect", {x:sp[0], y:sp[1], width:sp[2]-sp[0], height:sp[3]-sp[1]}, cp);
  const bg = mk("rect", {x:sp[0], y:sp[1], width:sp[2]-sp[0], height:sp[3]-sp[1], fill:"#fff"}, sg);
  
  
  const stepY = Math.abs(p.sT[0]-p.sT[1]);
  const yMin = Math.min(...p.sT) - stepY, yMax = Math.max(...p.sT) + stepY;
  for (let v = yMin; v <= yMax + 1e-9; v += stepY/2) {
    const yy = Y(v); if (yy < sp[1] || yy > sp[3]) continue;
    const major = p.sT.some(t => Math.abs(t - v) < 1e-6);
    const gl = mk("line", {x1:sp[0], x2:sp[2], y1:yy, y2:yy, stroke: major ? "#ebebeb" : "#f5f5f5", "stroke-width": major?1.1:0.6}, sg);
    
    
  }
  for (let v = -1.25; v <= 10; v += 1.25) {
    const xx = X(v); if (xx < sp[0] || xx > sp[2]) continue;
    const major = scatterXTicks.some(t => Math.abs(t - v) < 1e-6);
    const gl = mk("line", {x1:xx, x2:xx, y1:sp[1], y2:sp[3], stroke: major ? "#ebebeb" : "#f5f5f5", "stroke-width": major?1.1:0.6}, sg);
    
    
  }
  const pg = mk("g", {fill:"#000", "clip-path":"url(#"+clipId+")"}, sg);
  
  
  p.data.forEach(d => {
    const c = mk("circle", {cx:X(d[0]), cy:Y(d[1]), r:2.5}, pg);
    
    
  });
  const x0 = 0.1, x1 = 8.6, xm = 1.3;
  const fy = x => p.fit[0] + (x - x0) * (p.fit[1]-p.fit[0]) / (x1 - x0);
  const hw = x => { const a = p.band[0], b = (p.band[1]*p.band[1] - a*a)/((x1-xm)*(x1-xm)); return Math.sqrt(a*a + b*(x-xm)*(x-xm)); };
  let up = [], dn = [];
  for (let i = 0; i <= 40; i++) { const x = x0 + (x1-x0)*i/40; up.push(X(x)+","+Y(fy(x)+hw(x))); dn.unshift(X(x)+","+Y(fy(x)-hw(x))); }
  const band = mk("polygon", {points: up.concat(dn).join(" "), fill:"#999", "fill-opacity":0.4, stroke:"none"}, sg);
  
  
  const fl = mk("line", {x1:X(x0), y1:Y(fy(x0)), x2:X(x1), y2:Y(fy(x1)), stroke:"#3b5bb5", "stroke-width":2}, sg);
  
  
  const border = mk("rect", {x:sp[0], y:sp[1], width:sp[2]-sp[0], height:sp[3]-sp[1], fill:"none", stroke:"#555", "stroke-width":1.1}, sg);
  
  
  p.sT.forEach((t, i) => {
    const yy = Y(t);
    mk("line", {x1:sp[0]-3, x2:sp[0], y1:yy, y2:yy, stroke:"#333", "stroke-width":0.8}, sg);
    const tl = mk("text", {x:sp[0]-4.5, y:yy+3.3, "font-size":9.5, fill:"#4d4d4d", "text-anchor":"end"}, sg);
    tl.textContent = p.sL[i];
    
    
  });
  scatterXTicks.forEach((t, i) => {
    const xx = X(t);
    mk("line", {x1:xx, x2:xx, y1:sp[3], y2:sp[3]+3, stroke:"#333", "stroke-width":0.8}, sg);
    const tl = mk("text", {x:xx, y:sp[3]+12.5, "font-size":9.5, fill:"#4d4d4d", "text-anchor":"middle"}, sg);
    tl.textContent = scatterXLabels[i];
    
    
  });
  const xt = mk("text", {x:(sp[0]+sp[2])/2, y:sp[3]+25, "font-size":11.5, fill:"#000", "text-anchor":"middle"}, sg);
  xt.textContent = "Risk score";
  
  
  const cy = (sp[1]+sp[3])/2;
  const yt = mk("text", {x:p.ytx, y:cy, "font-size":11, fill:"#000", "text-anchor":"middle", transform:"rotate(-90 "+p.ytx+" "+cy+")", "dominant-baseline":"middle"}, sg);
  yt.textContent = p.ytitle;
  
  
  const rt = mk("text", {x:p.rT[0], y:p.rT[1], "font-size":11, fill:"#000"}, sg);
  rt.innerHTML = '<tspan font-style="italic">R</tspan> = ' + corrR[pi] + ', <tspan font-style="italic">p</tspan> = ' + corrP[pi];
  
  

  // ---- box plot ----
  const b = p.bp, BY = lin(b.y);
  const bg2 = mk("g", {}, g);
  
  
  const axL = mk("line", {x1:b.ax, x2:b.ax, y1:b.top, y2:b.bot, stroke:"#000", "stroke-width":1.3}, bg2);
  
  
  const axB = mk("line", {x1:b.ax, x2:b.right, y1:b.bot, y2:b.bot, stroke:"#000", "stroke-width":1.3}, bg2);
  
  
  p.bT.forEach((t, i) => {
    const yy = BY(t);
    mk("line", {x1:b.ax-4, x2:b.ax, y1:yy, y2:yy, stroke:"#000", "stroke-width":1}, bg2);
    const tl = mk("text", {x:b.ax-6, y:yy+4.5, "font-size":13, fill:"#000", "text-anchor":"end"}, bg2);
    tl.textContent = p.bL[i];
    
    
  });
  groups.forEach((gname, gi) => {
    const cx = b.x[gi], s = p.box[gi];
    mk("line", {x1:cx, x2:cx, y1:b.bot, y2:b.bot+4, stroke:"#000", "stroke-width":1}, bg2);
    const gl = mk("text", {x:cx, y:b.bot+16, "font-size":13, fill:"#000", "text-anchor":"middle"}, bg2);
    gl.textContent = gname;
    
    
    const wk = mk("line", {x1:cx, x2:cx, y1:BY(s[0]), y2:BY(s[4]), stroke:"#000", "stroke-width":1.1}, bg2);
    
    
    const bx = mk("rect", {x:cx-b.hw, y:BY(s[3]), width:2*b.hw, height:BY(s[1])-BY(s[3]), fill:COLORS[gi], stroke:"#111", "stroke-width":1.4}, bg2);
    
    
    const md = mk("line", {x1:cx-b.hw, x2:cx+b.hw, y1:BY(s[2]), y2:BY(s[2]), stroke:"#000", "stroke-width":2.6}, bg2);
    
    
    p.out[gi].forEach(o => {
      const oc = mk("circle", {cx:cx, cy:BY(o), r:2.5, fill:"#000"}, bg2);
      
      
    });
  });
  const sgp = mk("path", {d:"M"+b.x[0]+","+(b.sig+6)+" V"+b.sig+" H"+b.x[1]+" V"+(b.sig+6), fill:"none", stroke:"#000", "stroke-width":0.9}, bg2);
  
  
  const pv = mk("text", {x:(b.x[0]+b.x[1])/2, y:b.sig-3.5, "font-size":11.5, fill:"#000", "text-anchor":"middle"}, bg2);
  pv.textContent = pValues[pi];
  
  
  const bxt = mk("text", {x:(b.ax+b.right)/2, y:b.bot+30, "font-size":13, fill:"#000", "text-anchor":"middle"}, bg2);
  bxt.textContent = "Risk";
  
  
  const bcy = (b.top+b.bot)/2;
  const byt = mk("text", {x:b.ytx, y:bcy, "font-size":12.5, fill:"#000", "text-anchor":"middle", transform:"rotate(-90 "+b.ytx+" "+bcy+")", "dominant-baseline":"middle"}, bg2);
  byt.textContent = b.title;
  
  

  // legend
  const lg = mk("g", {}, g);
  
  
  const lx = p.leg[0], ly = p.leg[1];
  const rk = mk("text", {x:lx, y:ly+4.5, "font-size":12.5, fill:"#000"}, lg);
  rk.textContent = "Risk";
  
  
  groups.forEach((gname, gi) => {
    const kx = lx + 33 + gi*44;
    const ke = mk("g", {}, lg);
    
    
    mk("line", {x1:kx+7, x2:kx+7, y1:ly-8, y2:ly+8, stroke:"#000", "stroke-width":0.9}, ke);
    mk("rect", {x:kx, y:ly-5.5, width:14, height:11, fill:COLORS[gi], stroke:"#111", "stroke-width":1}, ke);
    mk("line", {x1:kx, x2:kx+14, y1:ly, y2:ly, stroke:"#000", "stroke-width":1.4}, ke);
    const lt2 = mk("text", {x:kx+19, y:ly+4, "font-size":10.5, fill:"#000"}, ke);
    lt2.textContent = gname;
  });
});
</script>
</body></html>
